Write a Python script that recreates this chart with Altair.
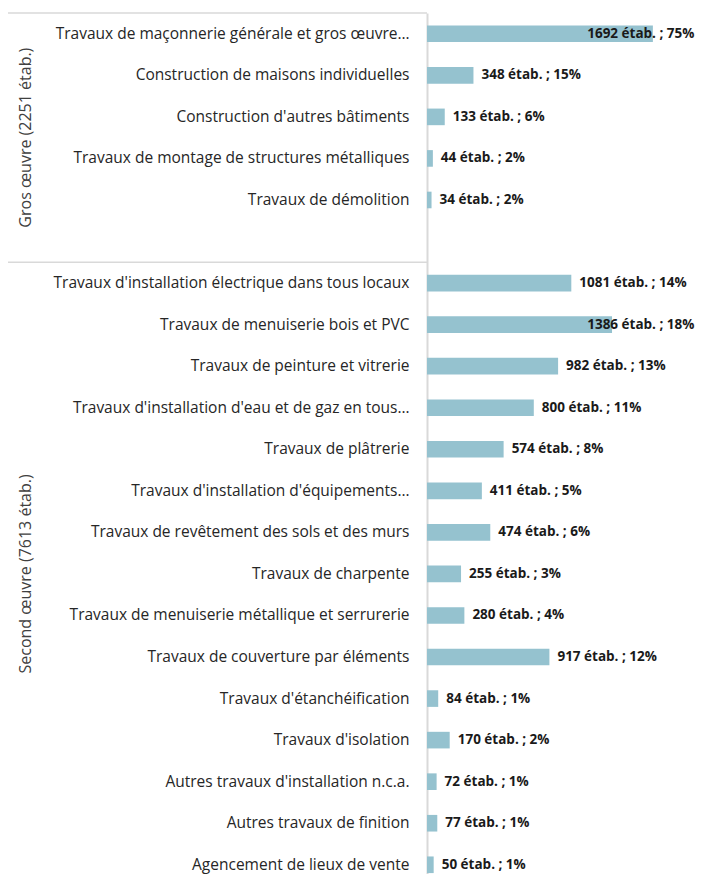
import altair as alt
import pandas as pd

groups = ["Gros œuvre (2251 étab.)", "Second œuvre (7613 étab.)"]
group_start = [0, 6]
group_span = [6, 15]

gros_labels = [
    "Travaux de maçonnerie générale et gros œuvre…",
    "Construction de maisons individuelles",
    "Construction d'autres bâtiments",
    "Travaux de montage de structures métalliques",
    "Travaux de démolition",
]
gros_values = [1692, 348, 133, 44, 34]
gros_pct = [75, 15, 6, 2, 2]

second_labels = [
    "Travaux d'installation électrique dans tous locaux",
    "Travaux de menuiserie bois et PVC",
    "Travaux de peinture et vitrerie",
    "Travaux d'installation d'eau et de gaz en tous…",
    "Travaux de plâtrerie",
    "Travaux d'installation d'équipements…",
    "Travaux de revêtement des sols et des murs",
    "Travaux de charpente",
    "Travaux de menuiserie métallique et serrurerie",
    "Travaux de couverture par éléments",
    "Travaux d'étanchéification",
    "Travaux d'isolation",
    "Autres travaux d'installation n.c.a.",
    "Autres travaux de finition",
    "Agencement de lieux de vente",
]
second_values = [1081, 1386, 982, 800, 574, 411, 474, 255, 280, 917, 84, 170, 72, 77, 50]
second_pct = [14, 18, 13, 11, 8, 5, 6, 3, 4, 12, 1, 2, 1, 1, 1]

labels = gros_labels + second_labels
values = gros_values + second_values
pcts = gros_pct + second_pct
domain = gros_labels + [" "] + second_labels

df = pd.DataFrame({"label": labels, "value": values, "pct": pcts})
df["txt"] = df["value"].astype(str) + " étab. ; " + df["pct"].astype(str) + "%"

gdf = pd.DataFrame({"group": groups, "start": group_start, "span": group_span})

FONT = "Open Sans"
BAR = "#95c2cf"
LINE = "#d9d9d9"
RANGE = [5, 5 + 21 * 41.55]

bscale = alt.Scale(domain=domain, paddingInner=0.6, paddingOuter=0.3, range=RANGE)
yband = alt.Y(
    "label:N",
    scale=bscale,
    axis=alt.Axis(
        title=None, ticks=False, labelPadding=18, labelFontSize=15.5,
        labelFont=FONT, labelColor="#262626", labelLimit=440,
        domainColor=LINE, domainWidth=2, grid=False,
    ),
)
xscale = alt.Scale(domain=[0, 2030], nice=False, zero=True)

bars = alt.Chart(df).mark_bar(color=BAR).encode(
    y=yband,
    x=alt.X("value:Q", scale=xscale, axis=None),
)

texts = alt.Chart(df).transform_calculate(
    lx="min(datum.value, 1140)"
).mark_text(
    align="left", baseline="middle", dx=8, font=FONT, fontSize=13.5,
    fontWeight="bold", color="#1a1a1a",
).encode(
    y=alt.Y("label:N", scale=bscale),
    x=alt.X("lx:Q", scale=xscale, axis=None),
    text="txt:N",
)

yann = alt.Scale(domain=[0, 21], nice=False, zero=False, range=RANGE)

seps = alt.Chart(gdf).mark_rule(color=LINE, strokeWidth=1.5).encode(
    y=alt.Y("start:Q", scale=yann, axis=None),
    x=alt.value(-419),
    x2=alt.value(0),
)

glabels = alt.Chart(gdf).transform_calculate(
    mid="datum.start + datum.span / 2"
).mark_text(
    angle=270, align="center", baseline="middle", font=FONT, fontSize=16,
    color="#404040",
).encode(
    y=alt.Y("mid:Q", scale=yann, axis=None),
    x=alt.value(-401),
    text="group:N",
)

main = alt.layer(bars, texts).resolve_scale(y="shared")

chart = alt.layer(main, seps, glabels).resolve_scale(y="independent").properties(
    width=271,
    height=866,
    autosize=alt.AutoSizeParams(type="none"),
    padding={"left": 419, "top": 0, "right": 0, "bottom": 0},
).configure_view(stroke=None)

chart.save("out.html", embed_options={"renderer": "svg", "actions": False})
